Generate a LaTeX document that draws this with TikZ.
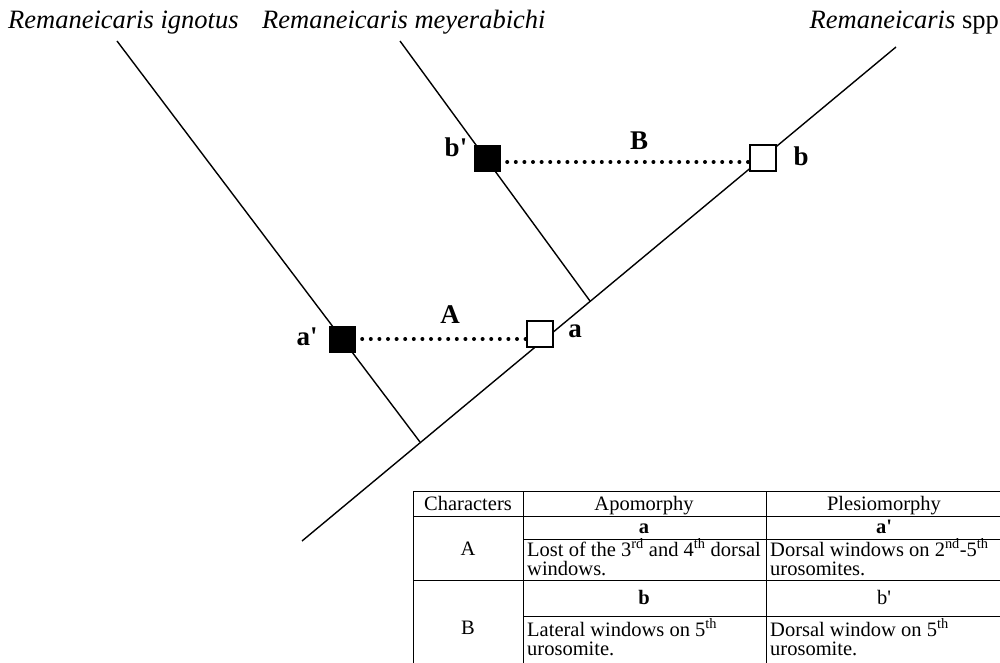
\documentclass[tikz,border=0pt]{standalone}
\usepackage{fontspec}
\setmainfont{Liberation Serif}
\begin{document}
\begin{tikzpicture}[x=1pt,y=-1pt,
  branch/.style={line width=1.4pt},
  apo/.style={draw, line width=1.3pt, fill=white, minimum size=26pt, inner sep=0pt},
  plesio/.style={draw, fill=black, minimum size=26pt, inner sep=0pt},
  dots/.style={line width=4pt, line cap=round, dash pattern=on 0pt off 8.6pt},
  tag/.style={font=\fontsize{27}{30}\selectfont\bfseries, inner sep=0pt, anchor=base},
  species/.style={font=\fontsize{26.5}{30}\selectfont\itshape, inner sep=0pt},
  grid/.style={line width=0.8pt},
  cell/.style={font=\fontsize{20.5}{19.5}\selectfont, inner sep=0pt, anchor=base},
  lcell/.style={cell, anchor=base west},
]
\useasboundingbox (0,0) rectangle (1000,663);
\clip (0,0) rectangle (1000,663);

% species labels
\node[species, anchor=base west] (ign) at (8,29) {Remaneicaris ignotus};
\node[species, anchor=base west] (mey) at (262,29) {Remaneicaris meyerabichi};
\node[species, anchor=base east] (spp) at (999,29) {Remaneicaris \upshape spp};

% tree
\coordinate (root) at (302,541);
\coordinate (tipS) at (896,47);
\coordinate (tipI) at (117,41);
\coordinate (tipM) at (400,41);
\coordinate (j1) at (420,442);
\coordinate (j2) at (590,301);
\draw[branch] (root) -- (tipS);
\draw[branch] (tipI) -- (j1);
\draw[branch] (tipM) -- (j2);

% character states
\node[plesio] (ap) at (342,339) {};
\node[apo] (a) at (540,334) {};
\node[plesio] (bp) at (487,158) {};
\node[apo] (b) at (763,158) {};

\draw[dots] ([xshift=7pt]ap.east) -- (ap.east -| a.west);
\draw[dots] ([xshift=7pt,yshift=-4pt]bp.east) coordinate (bs) -- (bs -| b.west);

\node[tag] (lap) at (307,345) {a\textquotesingle};
\node[tag] (la) at (575,337) {a};
\node[tag] (lA) at (450,323) {A};
\node[tag] (lB) at (639,150) {B};
\node[tag] (lb) at (801,165) {b};
\node[tag] (lbp) at (456,157) {b\textquotesingle};

% table
\draw[grid] (413,670) -- (413,491) -- (1010,491);
\draw[grid] (413,516) -- (1010,516);
\draw[grid] (523,491) -- (523,670);
\draw[grid] (766,491) -- (766,670);
\draw[grid] (523,539) -- (1010,539);
\draw[grid] (413,580) -- (1010,580);
\draw[grid] (523,616) -- (1010,616);

\node[cell] (hc) at (468,510) {Characters};
\node[cell] (ha) at (644,510) {Apomorphy};
\node[cell] (hp) at (884,510) {Plesiomorphy};

\node[cell] (cA) at (468,555) {A};
\node[cell, font=\fontsize{20.5}{19.5}\selectfont\bfseries] (sa) at (644,533) {a};
\node[cell, font=\fontsize{20.5}{19.5}\selectfont\bfseries] (sap) at (884,533) {a\textquotesingle};
\node[lcell] (ta1) at (527,556) {Lost of the 3\textsuperscript{rd} and 4\textsuperscript{th} dorsal};
\node[lcell] (ta2) at (527,575) {windows.};
\node[lcell] (tap1) at (770,556) {Dorsal windows on 2\textsuperscript{nd}-5\textsuperscript{th}};
\node[lcell] (tap2) at (770,575) {urosomites.};

\node[cell] (cB) at (468,634) {B};
\node[cell, font=\fontsize{20.5}{19.5}\selectfont\bfseries] (sb) at (644,604) {b};
\node[cell] (sbp) at (884,604) {b\textquotesingle};
\node[lcell] (tb1) at (527,636) {Lateral windows on 5\textsuperscript{th}};
\node[lcell] (tb2) at (527,655) {urosomite.};
\node[lcell] (tbp1) at (770,636) {Dorsal window on 5\textsuperscript{th}};
\node[lcell] (tbp2) at (770,655) {urosomite.};
\end{tikzpicture}
\end{document}
